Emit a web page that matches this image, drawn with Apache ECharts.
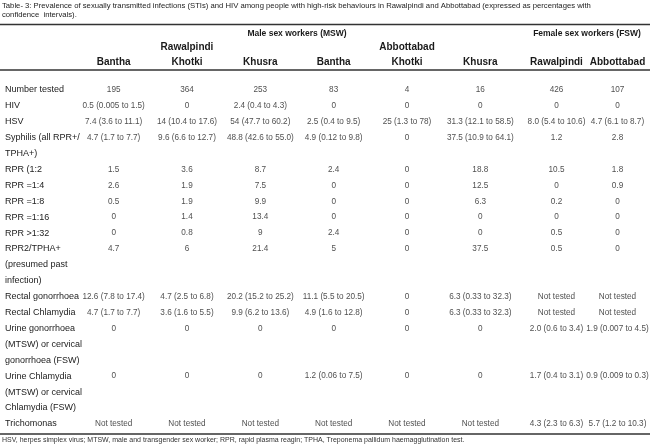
<!DOCTYPE html>
<html>
<head>
<meta charset="utf-8" />
<title>Table 3</title>
<script src="https://cdn.jsdelivr.net/npm/echarts@6/dist/echarts.min.js"></script>
<style>
  html, body { margin: 0; padding: 0; background: #fff; }
  #main { width: 650px; height: 447px; }
</style>
</head>
<body>
<div id="main"></div>
<script type="text/javascript">
var FONT = '"Liberation Sans", Arial, sans-serif';

// row labels (a "\n" means the label wraps onto the next line of the table)
var rowLabels = [
  'Number tested',
  'HIV',
  'HSV',
  'Syphilis (all RPR+/\nTPHA+)',
  'RPR (1:2',
  'RPR =1:4',
  'RPR =1:8',
  'RPR =1:16',
  'RPR >1:32',
  'RPR2/TPHA+\n(presumed past\ninfection)',
  'Rectal gonorrhoea',
  'Rectal Chlamydia',
  'Urine gonorrhoea\n(MTSW) or cervical\ngonorrhoea (FSW)',
  'Urine Chlamydia\n(MTSW) or cervical\nChlamydia (FSW)',
  'Trichomonas'
];

// column headers
var mswColumns = ['Bantha', 'Rawalpindi\nKhotki', 'Khusra', 'Bantha', 'Abbottabad\nKhotki', 'Khusra'];
var fswColumns = ['Rawalpindi', 'Abbottabad'];

// cell values, one array per column
var mswRwpBantha = ['195', '0.5 (0.005 to 1.5)', '7.4 (3.6 to 11.1)', '4.7 (1.7 to 7.7)', '1.5', '2.6', '0.5', '0', '0', '4.7',
  '12.6 (7.8 to 17.4)', '4.7 (1.7 to 7.7)', '0', '0', 'Not tested'];
var mswRwpKhotki = ['364', '0', '14 (10.4 to 17.6)', '9.6 (6.6 to 12.7)', '3.6', '1.9', '1.9', '1.4', '0.8', '6',
  '4.7 (2.5 to 6.8)', '3.6 (1.6 to 5.5)', '0', '0', 'Not tested'];
var mswRwpKhusra = ['253', '2.4 (0.4 to 4.3)', '54 (47.7 to 60.2)', '48.8 (42.6 to 55.0)', '8.7', '7.5', '9.9', '13.4', '9', '21.4',
  '20.2 (15.2 to 25.2)', '9.9 (6.2 to 13.6)', '0', '0', 'Not tested'];
var mswAbtBantha = ['83', '0', '2.5 (0.4 to 9.5)', '4.9 (0.12 to 9.8)', '2.4', '0', '0', '0', '2.4', '5',
  '11.1 (5.5 to 20.5)', '4.9 (1.6 to 12.8)', '0', '1.2 (0.06 to 7.5)', 'Not tested'];
var mswAbtKhotki = ['4', '0', '25 (1.3 to 78)', '0', '0', '0', '0', '0', '0', '0',
  '0', '0', '0', '0', 'Not tested'];
var mswAbtKhusra = ['16', '0', '31.3 (12.1 to 58.5)', '37.5 (10.9 to 64.1)', '18.8', '12.5', '6.3', '0', '0', '37.5',
  '6.3 (0.33 to 32.3)', '6.3 (0.33 to 32.3)', '0', '0', 'Not tested'];
var fswRawalpindi = ['426', '0', '8.0 (5.4 to 10.6)', '1.2', '10.5', '0', '0.2', '0', '0.5', '0.5',
  'Not tested', 'Not tested', '2.0 (0.6 to 3.4)', '1.7 (0.4 to 3.1)', '4.3 (2.3 to 6.3)'];
var fswAbbottabad = ['107', '0', '4.7 (6.1 to 8.7)', '2.8', '1.8', '0.9', '0', '0', '0', '0',
  'Not tested', 'Not tested', '1.9 (0.007 to 4.5)', '0.9 (0.009 to 0.3)', '5.7 (1.2 to 10.3)'];

var caption = 'Table- 3: Prevalence of sexually transmitted infections (STIs) and HIV among people with high-risk behaviours in Rawalpindi and Abbottabad (expressed as percentages with\nconfidence  intervals).';
var footnote = 'HSV, herpes simplex virus; MTSW, male and transgender sex worker; RPR, rapid plasma reagin; TPHA, Treponema pallidum haemagglutination test.';

// every printed line of the table is one slot of the y axis
var lineSlots = [];
var rowSlot = [];
rowLabels.forEach(function (lab) {
  rowSlot.push(lineSlots.length);
  lab.split('\n').forEach(function (l) { lineSlots.push(l); });
});

function cells(cols) {
  var out = [];
  cols.forEach(function (col, c) {
    col.forEach(function (v, r) { out.push([c, rowSlot[r], v]); });
  });
  return out;
}

var cellLabel = {
  show: true, position: 'inside', formatter: function (p) { return p.value[2]; },
  fontFamily: FONT, fontSize: 8.2, color: '#222'
};
var headLabel = {
  fontFamily: FONT, fontSize: 10, fontWeight: 'bold', color: '#1a1a1a',
  lineHeight: 14.5, interval: 0, margin: 13, verticalAlign: 'bottom'
};
var headName = { fontFamily: FONT, fontSize: 8.5, fontWeight: 'bold', color: '#1a1a1a' };

var myChart = echarts.init(document.getElementById('main'), null, { renderer: 'canvas' });
var option = {
  backgroundColor: '#fff',
  animation: false,
  title: [
    { text: caption, left: 0, top: 0, padding: [1, 2],
      textStyle: { fontFamily: FONT, fontSize: 7.7, fontWeight: 'normal', color: '#222', lineHeight: 9 } },
    { text: footnote, left: 0, top: 437, padding: [0, 2],
      textStyle: { fontFamily: FONT, fontSize: 7, fontWeight: 'normal', color: '#333' } }
  ],
  grid: [
    { left: 77, width: 440, top: 82, height: 349.8 },
    { left: 526, width: 122, top: 82, height: 349.8 }
  ],
  xAxis: [
    { type: 'category', gridIndex: 0, position: 'top', data: mswColumns,
      name: 'Male sex workers (MSW)', nameLocation: 'middle', nameGap: 44, nameMoveOverlap: false,
      nameTextStyle: headName,
      axisLine: { show: false }, axisTick: { show: false }, axisLabel: headLabel, splitLine: { show: false } },
    { type: 'category', gridIndex: 1, position: 'top', data: fswColumns,
      name: 'Female sex workers (FSW)', nameLocation: 'middle', nameGap: 44, nameMoveOverlap: false,
      nameTextStyle: headName,
      axisLine: { show: false }, axisTick: { show: false }, axisLabel: headLabel, splitLine: { show: false } }
  ],
  yAxis: [
    { type: 'category', gridIndex: 0, inverse: true, data: lineSlots,
      axisLine: { show: false }, axisTick: { show: false }, splitLine: { show: false },
      axisLabel: { interval: 0, align: 'left', margin: 72, fontFamily: FONT, fontSize: 9, color: '#222' } },
    { type: 'category', gridIndex: 1, inverse: true, data: lineSlots, show: false }
  ],
  graphic: [
    { type: 'line', shape: { x1: 0, y1: 24.5, x2: 650, y2: 24.5 }, style: { stroke: '#333', lineWidth: 1.5 } },
    { type: 'line', shape: { x1: 0, y1: 70, x2: 650, y2: 70 }, style: { stroke: '#333', lineWidth: 1.5 } },
    { type: 'line', shape: { x1: 0, y1: 434, x2: 650, y2: 434 }, style: { stroke: '#333', lineWidth: 1.5 } }
  ],
  series: [
    { type: 'scatter', xAxisIndex: 0, yAxisIndex: 0, symbolSize: 0, label: cellLabel,
      data: cells([mswRwpBantha, mswRwpKhotki, mswRwpKhusra, mswAbtBantha, mswAbtKhotki, mswAbtKhusra]) },
    { type: 'scatter', xAxisIndex: 1, yAxisIndex: 1, symbolSize: 0, label: cellLabel,
      data: cells([fswRawalpindi, fswAbbottabad]) }
  ]
};
myChart.setOption(option);
</script>
</body>
</html>
